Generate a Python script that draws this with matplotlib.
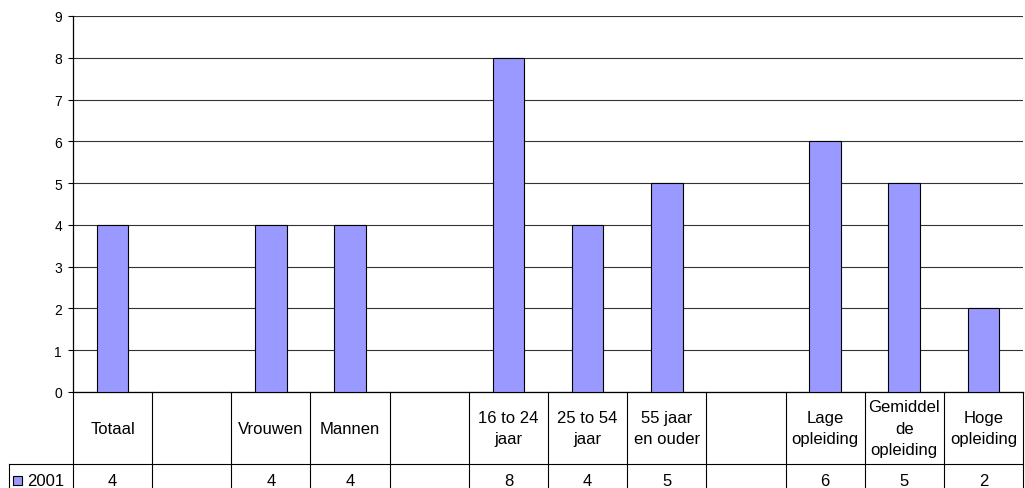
import matplotlib.pyplot as plt
import numpy as np
from matplotlib.patches import Rectangle

plt.rcParams['font.family'] = ['Liberation Sans', 'DejaVu Sans']

categories = ['Totaal', '', 'Vrouwen', 'Mannen', '',
              '16 to 24\njaar', '25 to 54\njaar', '55 jaar\nen ouder', '',
              'Lage\nopleiding', 'Gemiddel\nde\nopleiding', 'Hoge\nopleiding']
values_2001 = [4, None, 4, 4, None, 8, 4, 5, None, 6, 5, 2]
series_name = '2001'

bar_color = '#9999ff'
W, H = 1025, 489

fig = plt.figure(figsize=(W / 100, H / 100), dpi=100)
ax = fig.add_axes([73 / W, 1 - 393 / H, 950 / W, 376 / H])

n = len(categories)
x = np.arange(n)
vals = [v if v is not None else 0 for v in values_2001]
mask = [v is not None for v in values_2001]
ax.bar(x[mask], np.array(vals)[mask], width=0.4, color=bar_color,
       edgecolor='black', linewidth=0.8, zorder=3)

ax.set_xlim(-0.5, n - 0.5)
ax.set_ylim(0, 9)
ax.set_yticks(range(10))
ax.tick_params(axis='y', direction='out', length=3.6, labelsize=10, pad=4.3, width=0.8)
ax.tick_params(axis='x', bottom=False, labelbottom=False)
ax.yaxis.grid(True, color='#333333', linewidth=0.8, zorder=0)
for s in ['top', 'right']:
    ax.spines[s].set_visible(False)
ax.spines['left'].set_linewidth(0.9)
ax.spines['bottom'].set_linewidth(0.9)

# data table below the axis
tr = ax.get_xaxis_transform()
ah = 376
px = 950 / n


def fy(py):
    # pixel row in the figure -> axes fraction
    return -(py - 393) / ah


y_row1 = fy(465)
y_row2 = fy(500)
for b in np.arange(-0.5, n, 1.0):
    ax.plot([b, b], [0, y_row2], color='black', linewidth=0.8, clip_on=False, transform=tr)
x_leg = -0.5 - (73 - 9) / px
ax.plot([x_leg, n - 0.5], [y_row1, y_row1], color='black', linewidth=0.8,
        clip_on=False, transform=tr)
ax.plot([x_leg, x_leg], [y_row1, y_row2], color='black', linewidth=0.8,
        clip_on=False, transform=tr)

for i, c in enumerate(categories):
    ax.text(i, fy(429), c, ha='center', va='center', fontsize=12,
            transform=tr, linespacing=1.5)
    if values_2001[i] is not None:
        ax.text(i, fy(481), str(values_2001[i]), ha='center',
                va='center', fontsize=12, transform=tr)

# legend key in table
ax.add_patch(Rectangle((-0.5 - (73 - 13) / px, fy(486)), 9 / px, 9 / ah,
                       facecolor=bar_color, edgecolor='black', linewidth=0.8,
                       transform=tr, clip_on=False))
ax.text(-0.5 - (73 - 27) / px, fy(481), series_name, ha='left',
        va='center', fontsize=12, transform=tr)

fig.savefig('out.png', dpi=100)
